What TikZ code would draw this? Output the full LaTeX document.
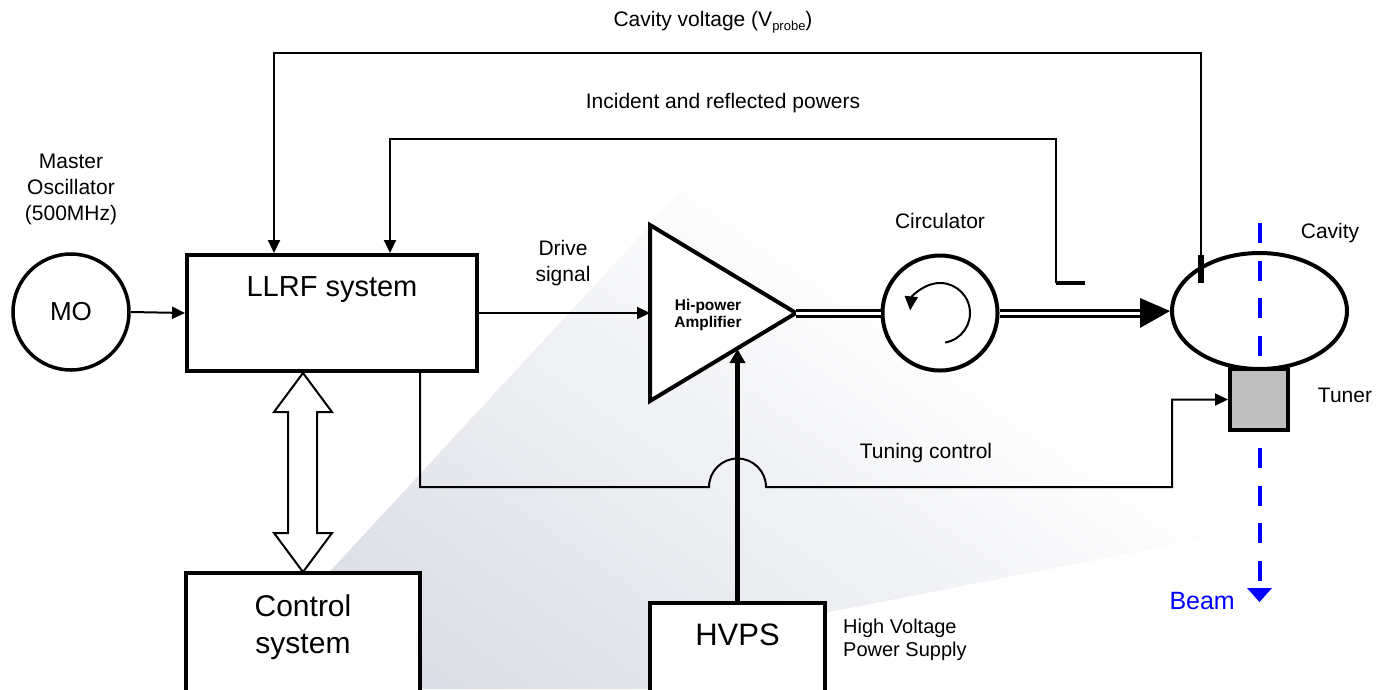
\documentclass[tikz,border=0pt]{standalone}
\usepackage{fontspec}
\setmainfont{Liberation Sans}
\usetikzlibrary{arrows.meta,shapes.geometric,calc}
\definecolor{bgdark}{RGB}{208,212,222}
\pgfdeclareverticalshading{wedgeshade}{100bp}{color(0bp)=(bgdark); color(25bp)=(bgdark!75!white); color(45bp)=(bgdark!35!white); color(62bp)=(white); color(100bp)=(white)}
\newcommand{\fsz}[1]{\fontsize{#1pt}{#1pt}\selectfont}
\tikzset{
  thinline/.style={line width=2pt},
  tri/.style={-{Triangle[length=13pt,width=12pt]}},
  boxthick/.style={draw, line width=4pt, fill=white, inner sep=0pt},
  lbl/.style={inner sep=0pt, align=center, font=\fsz{21}},
  dbl/.style={double, double distance=3pt, line width=3pt},
}
\begin{document}
\begin{tikzpicture}[x=1pt,y=-1pt]
\useasboundingbox (0,0) rectangle (1376,689);
\fill[white] (0,0) rectangle (1376,689);
\clip (0,0) rectangle (1376,689);
% background wedge
\shade[shading=wedgeshade, shading angle=-35]
  (221,689) -- (720,150) -- (1300,150) -- (1300,689) -- cycle;
\fill[white] (720,689) -- (830,612) -- (1300,520) -- (1300,689) -- cycle;

% nodes
\node[circle, draw, line width=3.5pt, minimum size=116pt, inner sep=0pt, font=\fsz{26}] (mo) at (71,312) {MO};
\node[lbl] (molbl) at (71,189) {Master\\[5pt]Oscillator\\[5pt](500MHz)};

\node[boxthick, minimum width=290pt, minimum height=116pt] (llrf) at (332,313) {};
\node[inner sep=0pt, font=\fsz{29}] (llrftxt) at (332,290) {LLRF system};

\node[boxthick, minimum width=234pt, minimum height=130pt] (ctrl) at (303,638) {};
\node[inner sep=0pt, align=center, font=\fsz{30}] (ctrltxt) at (303,627) {Control\\[7pt]system};

\node[boxthick, minimum width=175pt, minimum height=110pt] (hvps) at (737.5,658) {};
\node[inner sep=0pt, font=\fsz{31}] (hvpstxt) at (737.5,635) {HVPS};
\node[inner sep=0pt, align=left, anchor=west, font=\fsz{20}] (hvpslbl) at (843,640) {High Voltage\\[3pt]Power Supply};

% amplifier
\coordinate (ampA) at (650,225);
\coordinate (ampB) at (650,401);
\coordinate (amptip) at (796,313);
\coordinate (ampin) at (650,313);
\coordinate (amphv) at (737.5,349);
\draw[line width=4pt, line join=miter, fill=white] (ampA) -- (amptip) -- (ampB) -- cycle;
\node[inner sep=0pt, align=center, font=\bfseries\fsz{15.5}] (amptxt) at (708,315) {Hi-power\\[1pt]Amplifier};

% circulator
\node[circle, draw, line width=4pt, minimum size=115pt, inner sep=0pt, fill=white] (circ) at (940,313) {};
\node[lbl] (circlbl) at (940,221) {Circulator};
\draw[line width=2pt, -{Triangle[length=14pt,width=13pt]}] (circ.center) ++(-80:30pt) arc[start angle=-80, end angle=175, radius=30pt];

% cavity
\node[ellipse, draw, line width=4pt, minimum width=175pt, minimum height=116pt, inner sep=0pt, fill=white] (cav) at (1259.5,311) {};
\node[lbl] (cavlbl) at (1330,233) {Cavity};
% beam
\draw[blue, line width=4pt, dash pattern=on 20pt off 17.5pt] (1259.5,223) -- (1259.5,582) coordinate (beamend);
\fill[blue] (1247,588) -- (1272,588) -- (1259.5,602) -- cycle;
\node[inner sep=0pt, anchor=east, text=blue, font=\fsz{25}] (beamlbl) at (1235,601) {Beam};
% tuner
\node[draw, line width=4pt, fill=gray!50, minimum width=58pt, minimum height=61pt, inner sep=0pt] (tuner) at (1259,399.5) {};
\node[lbl] (tunerlbl) at (1345,395) {Tuner};

% connectors
\draw[thinline, tri] (mo.east) -- (llrf.west);
\draw[thinline, tri] (llrf.east) -- (ampin);
\node[lbl] (drivelbl) at (563,263) {Drive\\[5pt]signal};

\draw[dbl] (amptip) -- (circ.west);
\coordinate (cavarr) at (1140,313);
\draw[dbl] (circ.east) -- (cavarr);
\fill (1140,298) -- (cav.west) -- (1140,328) -- cycle;

% cavity probe
\coordinate (probeT) at (1201,255);
\coordinate (probeB) at (1201,283);
\coordinate (cvR) at (1201,53);
\coordinate (cvL) at (274,53);
\draw[line width=6pt] (probeT) -- (probeB);
\draw[thinline, tri] (probeT) -- (cvR) -- (cvL) -- (cvL |- llrf.north);
\node[inner sep=0pt, font=\fsz{21}] (cvlbl) at (713,22) {Cavity voltage (V\raisebox{-0.4ex}{\fsz{13}probe})};

% incident / reflected coupler
\coordinate (cpL) at (1056,283);
\coordinate (cpR) at (1085,283);
\coordinate (irR) at (1056,139);
\coordinate (irL) at (390,139);
\draw[line width=4.5pt] (cpL) -- (cpR);
\draw[thinline, tri] (cpL) -- (irR) -- (irL) -- (irL |- llrf.north);
\node[lbl] (irlbl) at (723,103) {Incident and reflected powers};

% tuning control
\coordinate (tcA) at (420,371);
\coordinate (tcB) at (420,487);
\coordinate (tcC) at (709,487);
\coordinate (tcD) at (1172,487);
\coordinate (tcE) at (1172,399.5);
\draw[thinline, tri] (tcA) -- (tcB) -- (tcC) arc[start angle=180, end angle=0, radius=28.5pt] -- (tcD) -- (tcE) -- (tuner.west);
\node[lbl] (tclbl) at (926,453) {Tuning control};

% HVPS feed
\draw[line width=5pt, -{Triangle[length=14pt,width=15pt]}] (hvps.north) -- (amphv);

% LLRF <-> control double arrow
\coordinate (daT) at (303,373);
\coordinate (daB) at (303,572);
\draw[line width=2pt, fill=white, line join=miter]
  (daT) -- (332,412) -- (317,412) -- (317,533) -- (332,533) -- (daB)
  -- (274,533) -- (288,533) -- (288,412) -- (274,412) -- cycle;
\end{tikzpicture}
\end{document}
